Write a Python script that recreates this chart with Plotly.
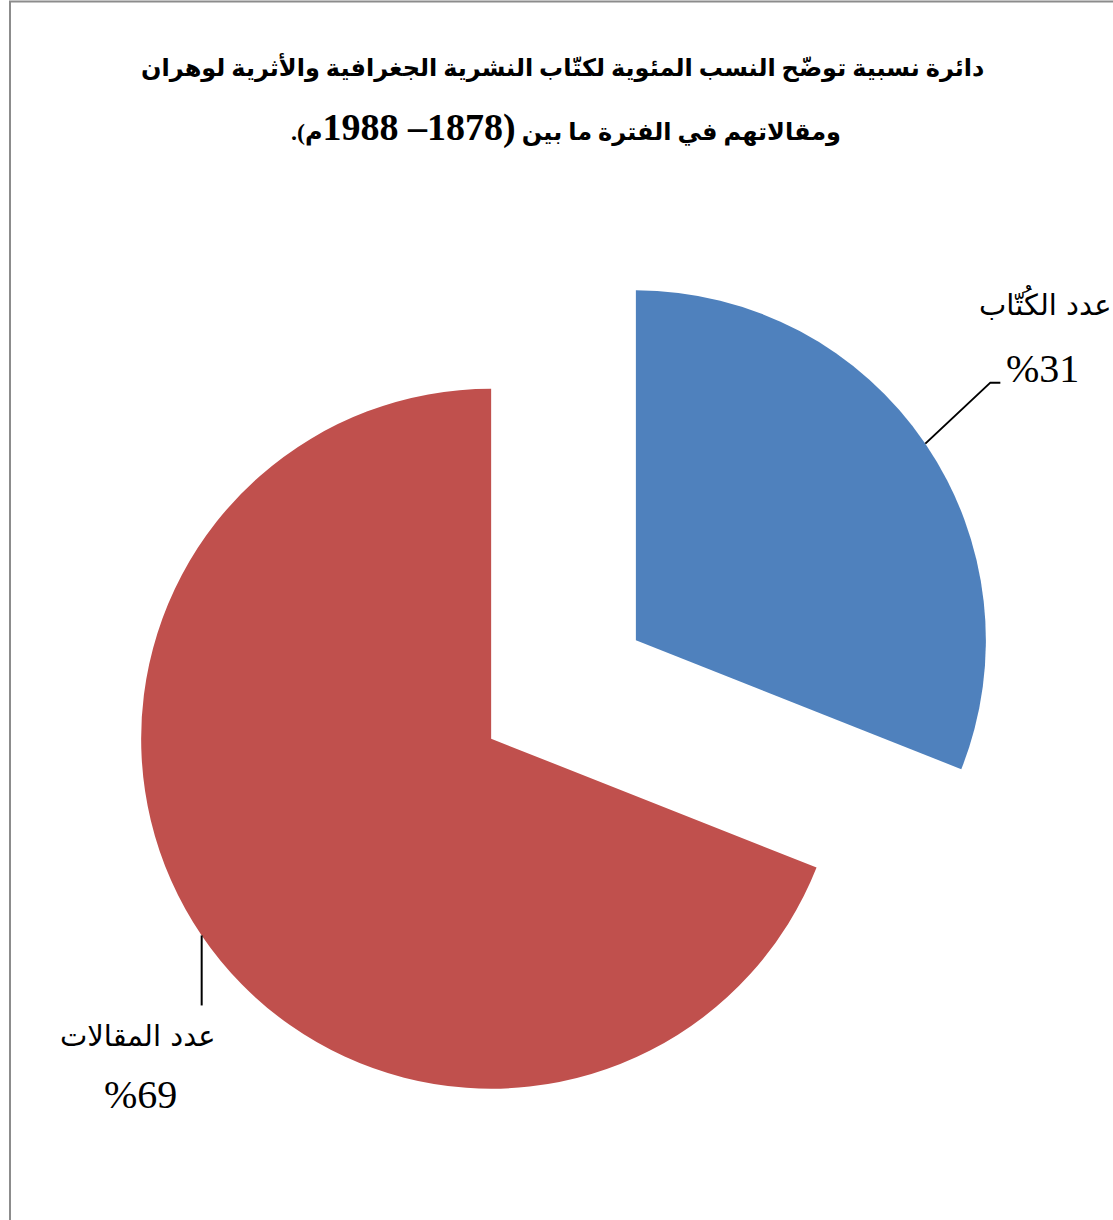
import math
import plotly.graph_objects as go

# ---------------- data ----------------
categories = ["عدد الكُتّاب", "عدد المقالات"]
values = [31, 69]
percent_labels = ["%31", "%69"]
colors = ["#4F81BD", "#C0504D"]
title_line1 = "دائرة نسبية توضّح النسب المئوية لكتّاب النشرية الجغرافية والأثرية لوهران"
title_line2_words = "ومقالاتهم في الفترة ما بين"
title_line2_years = "(1878– 1988"
title_line2_tail = "م)."

# ---------------- layout parameters ----------------
W, H = 1113, 1220
pull = 0.25
dom_x = [0.1132, 0.8994]
dom_y = [0.0762, 0.7934]

fig = go.Figure(
    go.Pie(
        labels=categories,
        values=values,
        sort=False,
        direction="clockwise",
        rotation=0,
        pull=[pull] * len(values),
        marker=dict(colors=colors, line=dict(width=0)),
        textinfo="none",
        hoverinfo="label+percent",
        domain=dict(x=dom_x, y=dom_y),
        showlegend=False,
    )
)

# geometry mirroring plotly's pie scaling (margins are zero, so paper == page)
box_w = W * (dom_x[1] - dom_x[0])
box_h = H * (dom_y[1] - dom_y[0])
r = min(box_w, box_h) / 2 / (1 + pull)
cx = W * (dom_x[0] + dom_x[1]) / 2
cy = H * (1 - (dom_y[0] + dom_y[1]) / 2)

total = sum(values)
cum = 0
anchors = []
for v in values:
    mid = 360 * (cum + v / 2) / total
    cum += v
    a = math.radians(mid)
    d = r * (1 + pull)
    anchors.append((cx + d * math.sin(a), cy - d * math.cos(a)))


def px(x):
    return x / W


def py(y):
    return 1 - y / H


# leader-line offsets (pixels) and label offsets relative to the line end
leaders = [
    [(0, 0), (65, -61), (75, -61)],
    [(0, 0), (0, 70)],
]
name_off = [(45, -79), (-64, 31)]
pct_off = [(42, -14), (-61, 89)]

shapes = []
annotations = []
for i, (ax, ay) in enumerate(anchors):
    pts = [(ax + dx, ay + dy) for dx, dy in leaders[i]]
    path = "M " + " L ".join(f"{px(x):.5f},{py(y):.5f}" for x, y in pts)
    shapes.append(dict(type="path", xref="paper", yref="paper", path=path,
                       line=dict(color="black", width=2)))
    ex, ey = pts[-1]
    annotations.append(dict(
        x=px(ex + name_off[i][0]), y=py(ey + name_off[i][1]), xref="paper", yref="paper",
        text=categories[i], showarrow=False, xanchor="center", yanchor="middle",
        font=dict(family="DejaVu Sans", size=29, color="black")))
    annotations.append(dict(
        x=px(ex + pct_off[i][0]), y=py(ey + pct_off[i][1]), xref="paper", yref="paper",
        text=percent_labels[i], showarrow=False, xanchor="center", yanchor="middle",
        font=dict(family="Liberation Serif", size=40, color="black")))

# title lines
annotations.append(dict(
    x=px(562), y=py(68), xref="paper", yref="paper",
    text="<b>\u200f" + title_line1 + "\u200f</b>", showarrow=False,
    xanchor="center", yanchor="middle",
    font=dict(family="Liberation Serif, DejaVu Sans", size=24, color="black")))
line2 = ("<b>\u200f" + title_line2_words + " "
         + "<span style='font-size:38px'>" + title_line2_years + "</span>"
         + title_line2_tail + "\u200f</b>")
annotations.append(dict(
    x=px(566), y=py(127), xref="paper", yref="paper",
    text=line2, showarrow=False,
    xanchor="center", yanchor="middle",
    font=dict(family="Liberation Serif, DejaVu Sans", size=24, color="black")))

# outer frame (left and top edges visible)
shapes.append(dict(type="rect", xref="paper", yref="paper",
                   x0=px(10), x1=1.05, y0=-0.05, y1=py(1.5),
                   line=dict(color="#8C8C8C", width=2)))

fig.update_layout(
    width=W, height=H,
    margin=dict(l=0, r=0, t=0, b=0),
    paper_bgcolor="white",
    plot_bgcolor="white",
    shapes=shapes,
    annotations=annotations,
)

fig.write_html("out.html")
